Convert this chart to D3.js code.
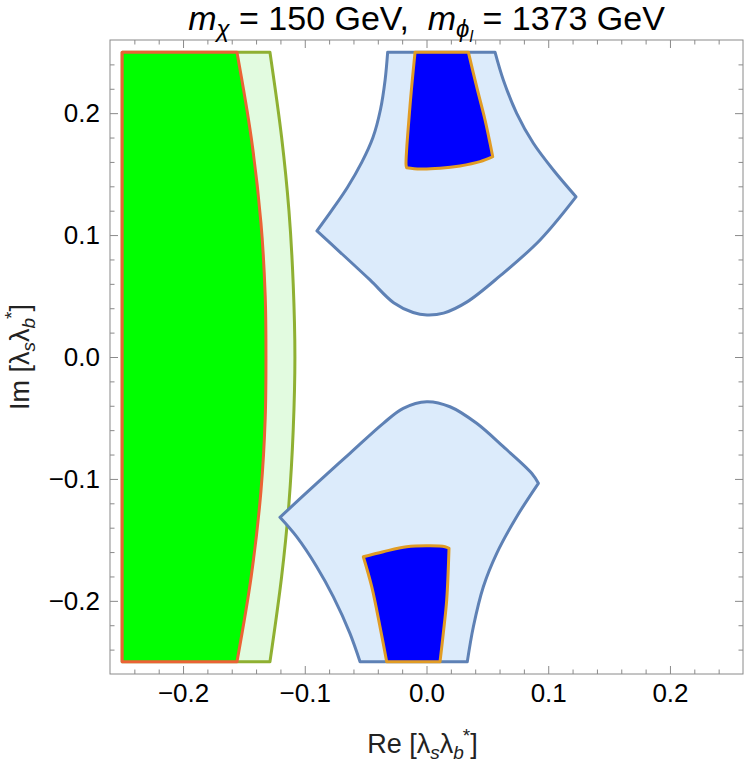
<!DOCTYPE html>
<html>
<head>
<meta charset="utf-8">
<script src="https://cdn.jsdelivr.net/npm/d3@7"></script>
<style>
  body { margin: 0; background: #fff; }
  text { font-family: "Liberation Sans", Arial, sans-serif; }
</style>
</head>
<body>
<div id="chart"></div>
<script>
// axis ticks
const majorTicks = [-0.2, -0.1, 0.0, 0.1, 0.2];
const minorTicks = [-0.24, -0.22, -0.18, -0.16, -0.14, -0.12, -0.08, -0.06, -0.04, -0.02,
  0.02, 0.04, 0.06, 0.08, 0.12, 0.14, 0.16, 0.18, 0.22, 0.24];

// boundary of the green region (right side, top to bottom)
const redCurve = [[-0.1557, 0.25], [-0.1440, 0.18], [-0.1360, 0.11], [-0.1325, 0.05], [-0.1319, 0],
  [-0.1325, -0.05], [-0.1360, -0.11], [-0.1440, -0.18], [-0.1557, -0.25]];
// boundary of the light green region
const greenCurve = [[-0.1286, 0.25], [-0.1190, 0.18], [-0.1130, 0.12], [-0.1095, 0.06], [-0.1081, 0],
  [-0.1095, -0.06], [-0.1130, -0.12], [-0.1190, -0.18], [-0.1286, -0.25]];

// upper light blue region, edges
const upperTop = [[-0.0319, 0.25], [0.0563, 0.25]];
const upperRight = [[0.0563, 0.25], [0.0631, 0.2272], [0.0741, 0.1999], [0.0878, 0.1753],
  [0.1042, 0.1534], [0.1228, 0.1315]];
const upperBottom = [[0.1228, 0.1313], [0.0933, 0.0960], [0.0604, 0.0665], [0.0330, 0.0450],
  [0.0140, 0.0360], [0.0004, 0.0345], [-0.0110, 0.0365], [-0.0270, 0.0445], [-0.0464, 0.0632],
  [-0.0711, 0.0861], [-0.0900, 0.1034]];
const upperLeft = [[-0.0900, 0.1034], [-0.0780, 0.1200], [-0.0650, 0.1390], [-0.0530, 0.1600],
  [-0.0440, 0.1800], [-0.0378, 0.2030], [-0.0340, 0.2272], [-0.0319, 0.25]];

// upper dark blue region
const upperCoreTop = [[-0.0094, 0.25], [0.0344, 0.25]];
const upperCoreRight = [[0.0344, 0.25], [0.0412, 0.2217], [0.0481, 0.1944], [0.0522, 0.1753], [0.0544, 0.1643]];
const upperCoreBottom = [[0.0544, 0.1643], [0.044, 0.1602], [0.0275, 0.1567], [0.0111, 0.1548],
  [-0.0053, 0.1542], [-0.0163, 0.1553]];
const upperCoreLeft = [[-0.0163, 0.1553], [-0.0168, 0.1575], [-0.0136, 0.2053], [-0.0094, 0.25]];

// lower light blue region
const lowerLeft = [[-0.0546, -0.25], [-0.0629, -0.2267], [-0.0766, -0.1966], [-0.0902, -0.172],
  [-0.1067, -0.1474], [-0.1204, -0.1315]];
const lowerTop = [[-0.1204, -0.1315], [-0.0902, -0.1036], [-0.0629, -0.079], [-0.0355, -0.0544],
  [-0.0191, -0.0421], [0.0002, -0.0367], [0.0193, -0.0408], [0.0412, -0.0544], [0.0631, -0.0736],
  [0.0864, -0.0954], [0.0919, -0.1036]];
const lowerRight = [[0.0919, -0.1036], [0.0741, -0.131], [0.0577, -0.161], [0.0467, -0.1884],
  [0.0385, -0.2212], [0.0335, -0.25]];
const lowerBottom = [[0.0335, -0.25], [-0.0546, -0.25]];

// lower dark blue region
const lowerCoreTop = [[-0.0519, -0.1638], [-0.0355, -0.1597], [-0.0163, -0.1556], [0.0029, -0.1548],
  [0.0152, -0.1556], [0.0185, -0.1569]];
const lowerCoreRight = [[0.0185, -0.1569], [0.0166, -0.1993], [0.0138, -0.2267], [0.0111, -0.25]];
const lowerCoreBottom = [[0.0111, -0.25], [-0.0327, -0.25]];
const lowerCoreLeft = [[-0.0327, -0.25], [-0.0382, -0.2212], [-0.045, -0.1884], [-0.0519, -0.1638]];

const W = 746, H = 767;
const margin = { top: 40, right: 3, bottom: 93, left: 110 };
const width = W - margin.left - margin.right;
const height = H - margin.top - margin.bottom;

const svg = d3.select('#chart').append('svg')
  .attr('width', W).attr('height', H);

const g = svg.append('g')
  .attr('transform', `translate(${margin.left},${margin.top})`);

const x = d3.scaleLinear().domain([-0.26, 0.26]).range([0, width]);
const y = d3.scaleLinear().domain([-0.26, 0.26]).range([height, 0]);

const line = d3.line().x(d => x(d[0])).y(d => y(d[1])).curve(d3.curveCatmullRom.alpha(0.5));

// join edges into one closed path
function shape(edges) {
  return edges.map((e, i) => {
    const p = line(e);
    return i === 0 ? p : p.replace(/^M/, 'L');
  }).join('') + 'Z';
}

const lightGreen = [[[-0.25, -0.25], [-0.25, 0.25]], [[-0.25, 0.25], greenCurve[0]], greenCurve,
  [greenCurve[greenCurve.length - 1], [-0.25, -0.25]]];
const green = [[[-0.25, -0.25], [-0.25, 0.25]], [[-0.25, 0.25], redCurve[0]], redCurve,
  [redCurve[redCurve.length - 1], [-0.25, -0.25]]];

const regions = [
  { edges: lightGreen, fill: '#e2fbe0', stroke: '#8fb032' },
  { edges: green, fill: '#00ff00', stroke: '#eb6235' },
  { edges: [upperTop, upperRight, upperBottom, upperLeft], fill: '#dcebfb', stroke: '#5e81b5' },
  { edges: [lowerLeft, lowerTop, lowerRight, lowerBottom], fill: '#dcebfb', stroke: '#5e81b5' },
  { edges: [upperCoreTop, upperCoreRight, upperCoreBottom, upperCoreLeft], fill: '#0000ff', stroke: '#e19c24' },
  { edges: [lowerCoreTop, lowerCoreRight, lowerCoreBottom, lowerCoreLeft], fill: '#0000ff', stroke: '#e19c24' }
];

g.selectAll('.region')
  .data(regions)
  .enter().append('path')
  .attr('class', 'region')
  .attr('d', d => shape(d.edges))
  .attr('fill', d => d.fill)
  .attr('stroke', d => d.stroke)
  .attr('stroke-width', 3)
  .attr('stroke-linejoin', 'round');

// frame
g.append('rect')
  .attr('width', width).attr('height', height)
  .attr('fill', 'none').attr('stroke', '#8a8a8a').attr('stroke-width', 1);

function ticks(axis, transform, values, size, labels) {
  const a = g.append('g').attr('transform', transform)
    .call(axis.tickValues(values).tickSize(-size).tickPadding(10)
      .tickFormat(labels ? d3.format('.1f') : ''));
  a.select('.domain').remove();
  a.selectAll('.tick line').attr('stroke', '#8a8a8a');
  a.selectAll('.tick text')
    .attr('fill', '#000').attr('font-size', 26)
    .text(function () { return d3.select(this).text().replace('-', '\u2212'); });
  return a;
}

ticks(d3.axisBottom(x), `translate(0,${height})`, majorTicks, 8, true);
ticks(d3.axisBottom(x), `translate(0,${height})`, minorTicks, 4.5, false);
ticks(d3.axisTop(x), 'translate(0,0)', majorTicks, 8, false);
ticks(d3.axisTop(x), 'translate(0,0)', minorTicks, 4.5, false);
ticks(d3.axisLeft(y), 'translate(0,0)', majorTicks, 8, true);
ticks(d3.axisLeft(y), 'translate(0,0)', minorTicks, 4.5, false);
ticks(d3.axisRight(y), `translate(${width},0)`, majorTicks, 8, false);
ticks(d3.axisRight(y), `translate(${width},0)`, minorTicks, 4.5, false);

// title
const title = svg.append('text')
  .attr('x', margin.left + width / 2).attr('y', 30)
  .attr('text-anchor', 'middle').attr('font-size', 34).attr('fill', '#000');
title.append('tspan').attr('font-style', 'italic').text('m');
title.append('tspan').attr('font-style', 'italic').attr('font-size', 24).attr('dy', 7).text('\u03c7');
title.append('tspan').attr('dy', -7).text(' = 150 GeV,\u00a0\u00a0');
title.append('tspan').attr('font-style', 'italic').text('m');
title.append('tspan').attr('font-style', 'italic').attr('font-size', 24).attr('dy', 7).text('\u03d5');
title.append('tspan').attr('font-style', 'italic').attr('font-size', 16).attr('dy', 5).text('l');
title.append('tspan').attr('dy', -12).text(' = 1373 GeV');

// axis labels
function lambdaLabel(sel, prefix) {
  sel.append('tspan').text(prefix + ' [\u03bb');
  sel.append('tspan').attr('font-style', 'italic').attr('font-size', 19).attr('dy', 6).text('s');
  sel.append('tspan').attr('dy', -6).text('\u03bb');
  sel.append('tspan').attr('font-style', 'italic').attr('font-size', 19).attr('dy', 6).text('b');
  sel.append('tspan').attr('font-size', 19).attr('dx', -1).attr('dy', -17).text('*');
  sel.append('tspan').attr('dy', 11).text(']');
}

const xl = svg.append('text')
  .attr('x', margin.left + width / 2 - 4).attr('y', 753)
  .attr('text-anchor', 'middle').attr('font-size', 27).attr('fill', '#222');
lambdaLabel(xl, 'Re');

const yl = svg.append('text')
  .attr('transform', `translate(29,${margin.top + height / 2}) rotate(-90)`)
  .attr('text-anchor', 'middle').attr('font-size', 27).attr('fill', '#222');
lambdaLabel(yl, 'Im');
</script>
</body>
</html>
